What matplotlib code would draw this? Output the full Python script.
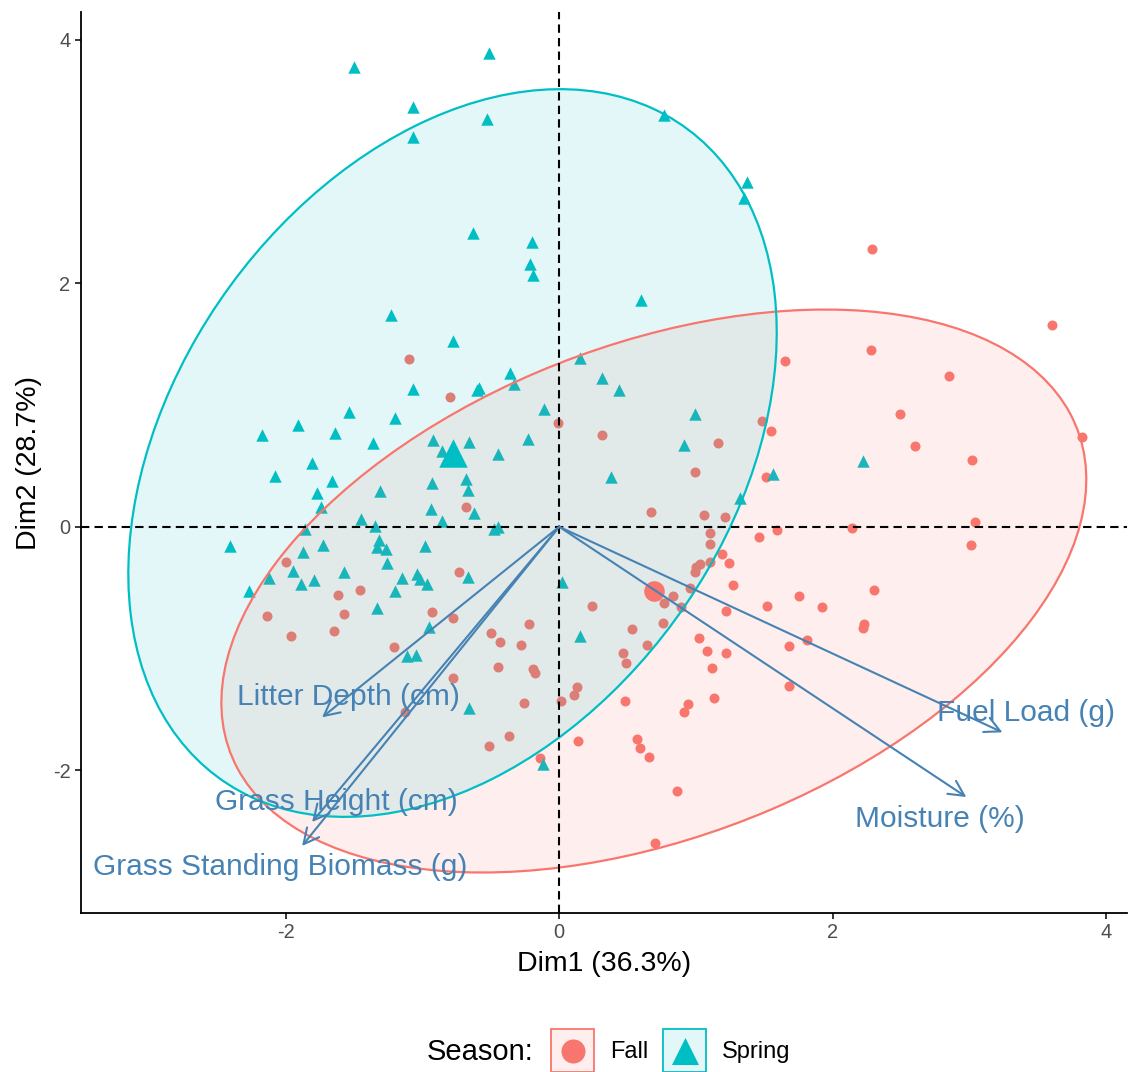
import numpy as np
import matplotlib.pyplot as plt
from matplotlib.patches import Ellipse, Rectangle

plt.rcParams['font.family'] = ['Liberation Sans', 'DejaVu Sans']
plt.rcParams['axes.unicode_minus'] = False

# Scores on the first two PCA dimensions, by season
fall_x = [-1.10, -0.80, -0.01, 1.65, 1.48, 1.55, 2.29, 3.60, 2.28, 2.85,
          2.49, 2.60, 3.02, 3.82, 2.14, 3.04, 3.01, 1.75, 2.30, 1.16,
          1.51, 1.06, 1.21, 1.10, 1.10, 1.46, 1.59, 1.19, 1.10, 1.03,
          1.24, 1.27, 1.52, 1.92, 1.22, 1.00, 0.99, 0.96, 0.83, 0.77,
          0.89, 0.24, 0.76, 0.53, 0.64, 0.47, 0.49, 1.02, 1.08, 1.22,
          1.12, 1.68, 1.81, 2.23, 2.22, 1.68, 1.13, 0.94, 0.91, 0.13,
          0.11, 0.01, 0.48, 0.14, 0.57, 0.59, 0.66, 0.86, 0.70, 0.31,
          0.99, -0.68, 0.67, -0.73, -0.93, -0.78, -0.22, -0.50, -2.00, -1.62,
          -1.46, -2.14, -1.57, -1.96, -1.65, -1.21, -0.78, -0.43, -0.28, -0.45,
          -0.19, -0.18, -0.26, -1.13, -0.37, -0.51, -0.14]
fall_y = [1.38, 1.07, 0.85, 1.36, 0.87, 0.79, 2.28, 1.66, 1.45, 1.24,
          0.93, 0.66, 0.55, 0.74, -0.01, 0.04, -0.15, -0.57, -0.52, 0.69,
          0.41, 0.10, 0.08, -0.05, -0.14, -0.08, -0.03, -0.22, -0.29, -0.31,
          -0.30, -0.48, -0.65, -0.66, -0.69, -0.33, -0.37, -0.50, -0.57, -0.63,
          -0.66, -0.65, -0.79, -0.84, -0.97, -1.04, -1.12, -0.91, -1.02, -1.04,
          -1.16, -0.98, -0.93, -0.80, -0.83, -1.31, -1.41, -1.46, -1.52, -1.32,
          -1.38, -1.43, -1.43, -1.76, -1.74, -1.82, -1.89, -2.17, -2.60, 0.75,
          0.45, 0.16, 0.12, -0.37, -0.70, -0.75, -0.80, -0.87, -0.29, -0.56,
          -0.52, -0.73, -0.72, -0.90, -0.86, -0.99, -1.24, -0.95, -0.97, -1.15,
          -1.17, -1.20, -1.45, -1.52, -1.72, -1.80, -1.90]

spring_x = [-1.50, -1.07, -1.07, -1.23, -1.07, -1.54, -1.20, -1.91, -2.17, -1.64,
            -0.51, -0.53, 0.77, 1.37, 1.35, -0.63, -0.20, -0.21, -0.19, 0.60,
            -0.78, 0.15, -0.36, -0.33, -0.60, -0.59, 0.31, 0.44, -0.11, 0.99,
            2.22, 1.56, 1.32, 0.15, 0.02, 0.91, 0.38, -0.92, -0.66, -0.23,
            -0.86, -0.45, -0.93, -0.68, -0.67, -0.94, -0.62, -0.86, -0.48, -0.45,
            -0.98, -0.67, -1.15, -1.04, -1.02, -0.97, -0.95, -1.36, -1.81, -2.08,
            -1.66, -1.77, -1.31, -1.74, -1.45, -1.35, -1.86, -2.41, -1.73, -1.32,
            -1.33, -1.27, -1.87, -1.26, -1.95, -1.57, -2.12, -1.89, -1.79, -2.27,
            -1.20, -1.33, -1.11, -1.05, -0.66, -0.12]
spring_y = [3.78, 3.45, 3.20, 1.74, 1.13, 0.94, 0.89, 0.84, 0.75, 0.77,
            3.89, 3.35, 3.38, 2.83, 2.70, 2.41, 2.34, 2.16, 2.07, 1.86,
            1.53, 1.39, 1.26, 1.17, 1.12, 1.14, 1.22, 1.12, 0.97, 0.93,
            0.54, 0.43, 0.24, -0.90, -0.45, 0.67, 0.41, 0.71, 0.70, 0.72,
            0.62, 0.60, 0.36, 0.39, 0.30, 0.15, 0.11, 0.05, -0.02, 0.00,
            -0.16, -0.41, -0.42, -0.39, -0.43, -0.47, -0.82, 0.69, 0.52, 0.42,
            0.38, 0.28, 0.29, 0.16, 0.06, 0.01, -0.02, -0.16, -0.15, -0.11,
            -0.17, -0.18, -0.21, -0.30, -0.36, -0.37, -0.42, -0.47, -0.44, -0.53,
            -0.53, -0.67, -1.06, -1.05, -1.49, -1.95]

# Group centres and the covariance-style matrices of the normal ellipses
seasons = ['Fall', 'Spring']
season_colors = ['#F8766D', '#00BFC4']
centre_x = [0.692, -0.78]
centre_y = [-0.528, 0.606]
ellipse_cov = [[[10.0, 2.9], [2.9, 5.35]],
               [[5.62, 2.35], [2.35, 8.94]]]

# Variable loadings (arrow ends) and where their labels sit
var_names = ['Litter Depth (cm)', 'Grass Height (cm)', 'Grass Standing Biomass (g)',
             'Fuel Load (g)', 'Moisture (%)']
load_x = [-1.734, -1.807, -1.880, 3.241, 2.977]
load_y = [-1.566, -2.426, -2.623, -1.689, -2.221]
lab_x = [-1.544, -1.631, -2.041, 3.416, 2.787]
lab_y = [-1.402, -2.262, -2.795, -1.533, -2.402]

arrow_col = '#4682B4'

fig = plt.figure(figsize=(11.29, 10.72), dpi=100)
ax = fig.add_axes([0.0717, 0.1483, 0.9263, 0.8405])

ax.scatter(fall_x, fall_y, s=52, marker='o', color=season_colors[0], linewidths=0, zorder=2)
ax.scatter(spring_x, spring_y, s=80, marker='^', color=season_colors[1], linewidths=0, zorder=2)

for i in range(2):
    vals, vecs = np.linalg.eigh(np.array(ellipse_cov[i]))
    ang = np.degrees(np.arctan2(vecs[1, 1], vecs[0, 1]))
    w, h = 2 * np.sqrt(vals[1]), 2 * np.sqrt(vals[0])
    ax.add_patch(Ellipse((centre_x[i], centre_y[i]), w, h, angle=ang,
                         facecolor=season_colors[i], alpha=0.11, edgecolor='none', zorder=3))
    ax.add_patch(Ellipse((centre_x[i], centre_y[i]), w, h, angle=ang,
                         facecolor='none', edgecolor=season_colors[i], lw=1.6, zorder=3.1))

# group means
ax.scatter(centre_x[:1], centre_y[:1], s=220, marker='o', color=season_colors[0],
           linewidths=0, zorder=4)
ax.scatter(centre_x[1:], centre_y[1:], s=420, marker='^', color=season_colors[1],
           linewidths=0, zorder=4)

ax.axhline(0, color='black', ls=(0, (4, 2.5)), lw=1.5, zorder=3.5)
ax.axvline(0, color='black', ls=(0, (4, 2.5)), lw=1.5, zorder=3.5)

for name, vx, vy, tx, ty in zip(var_names, load_x, load_y, lab_x, lab_y):
    ax.annotate('', xy=(vx, vy), xytext=(0, 0),
                arrowprops=dict(arrowstyle='->,head_length=0.55,head_width=0.28',
                                color=arrow_col, lw=1.5, shrinkA=0, shrinkB=0,
                                mutation_scale=20), zorder=5)
    ax.text(tx, ty, name, color=arrow_col, fontsize=21.5, ha='center', va='center', zorder=6)

ax.set_xlim(-3.497, 4.15)
ax.set_ylim(-3.174, 4.23)
ax.set_xticks([-2, 0, 2, 4])
ax.set_yticks([-2, 0, 2, 4])
ax.tick_params(labelsize=14.4, labelcolor='#4D4D4D', length=4, width=1.1, color='black')
for side in ['top', 'right']:
    ax.spines[side].set_visible(False)
for side in ['left', 'bottom']:
    ax.spines[side].set_linewidth(1.3)
ax.set_xlabel('Dim1 (36.3%)', fontsize=20.5, labelpad=6)
ax.set_ylabel('Dim2 (28.7%)', fontsize=20.5, labelpad=8)

# legend strip along the bottom, laid out in pixel units
lg = fig.add_axes([0, 0, 1, 1], zorder=-1)
lg.set_xlim(0, 1129)
lg.set_ylim(1072, 0)
lg.axis('off')
lg.text(427, 1052, 'Season:', fontsize=21, ha='left', va='center')
key_x = [551, 663]
key_marker = ['o', '^']
key_size = [300, 380]
for i in range(2):
    lg.add_patch(Rectangle((key_x[i], 1029), 43, 43, facecolor=season_colors[i],
                           alpha=0.11, edgecolor='none'))
    lg.add_patch(Rectangle((key_x[i], 1029), 43, 43, facecolor='none',
                           edgecolor=season_colors[i], lw=1.3))
    lg.scatter([key_x[i] + 21.5], [1051], s=key_size[i], marker=key_marker[i],
               color=season_colors[i], linewidths=0)
    lg.text(key_x[i] + 59, 1052, seasons[i], fontsize=17, ha='left', va='center')

fig.savefig('out.png', dpi=100)
